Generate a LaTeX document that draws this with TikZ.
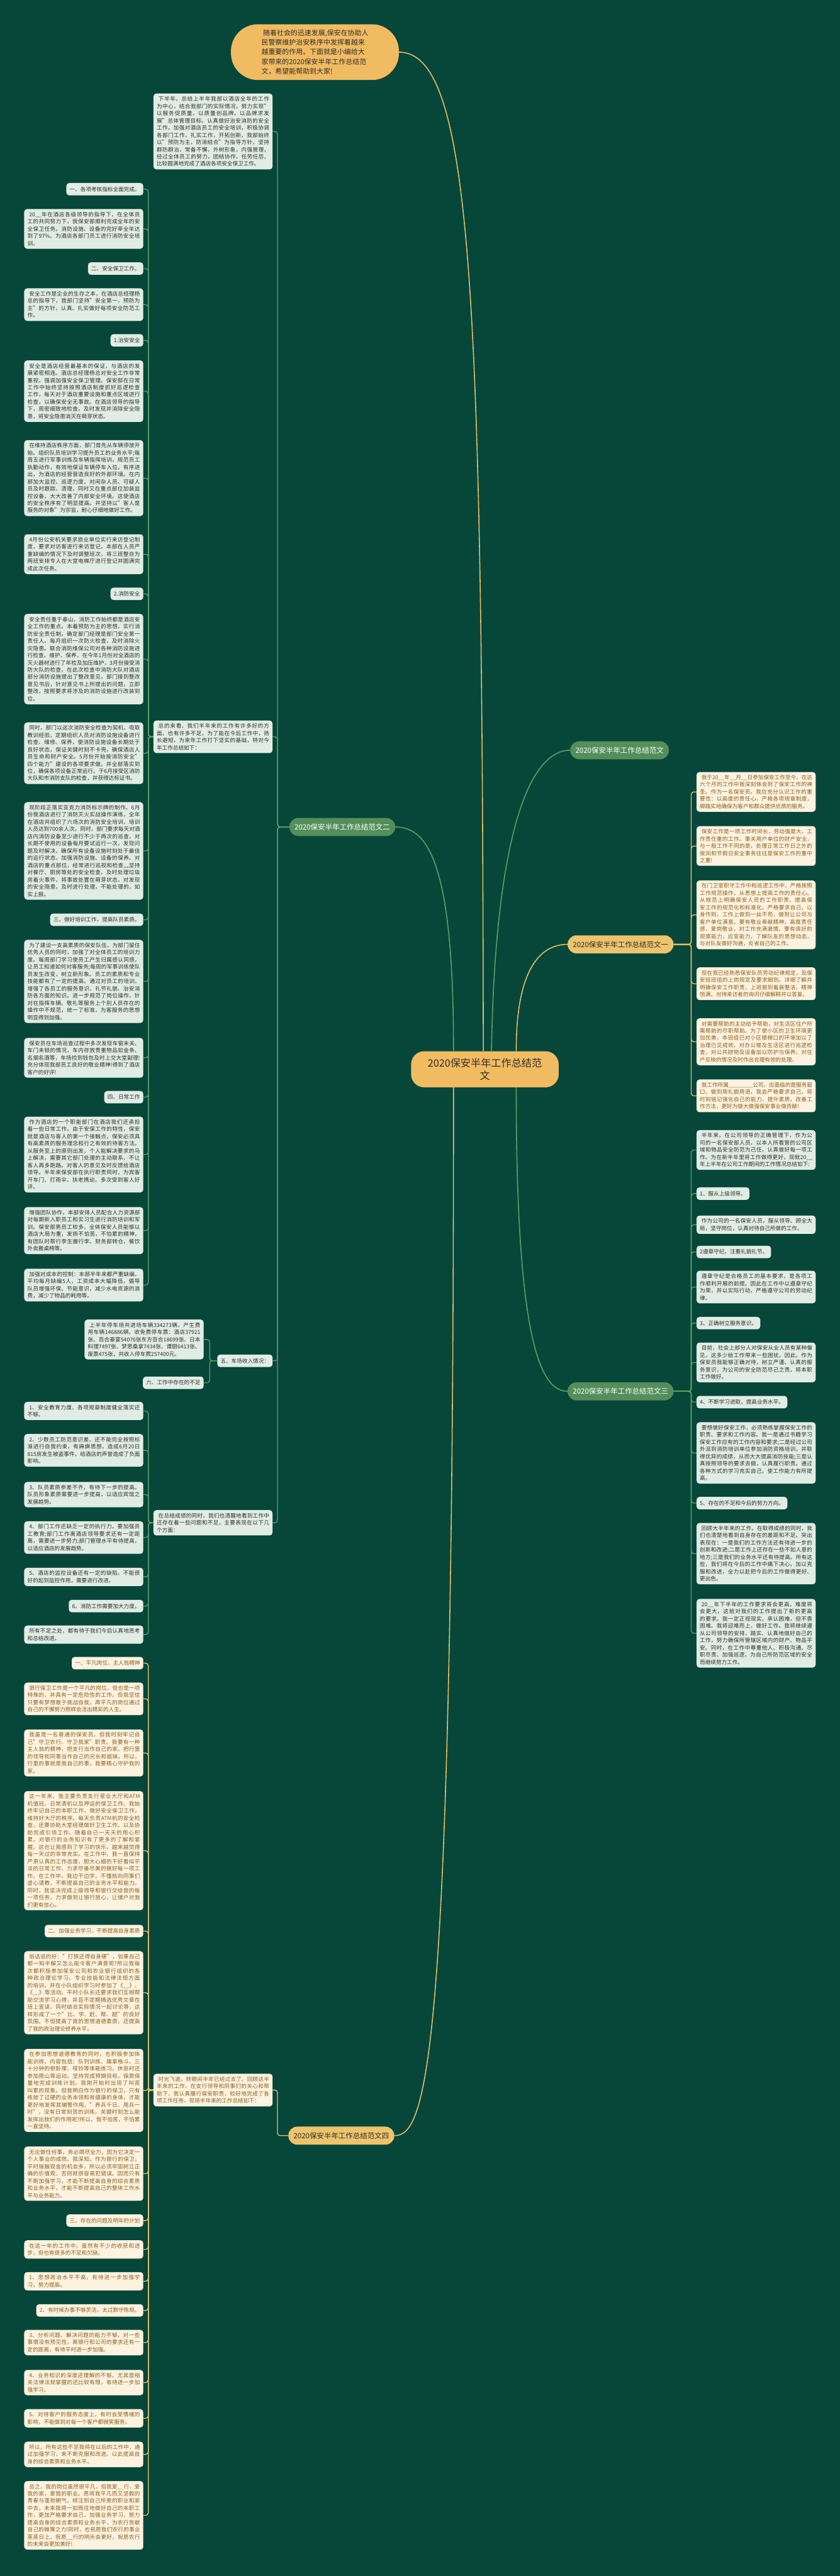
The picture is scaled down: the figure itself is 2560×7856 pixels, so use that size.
\documentclass[tikz,border=0pt]{standalone}
\usepackage{fontspec}
\setmainfont{Noto Sans CJK SC}
\XeTeXlinebreaklocale "zh"
\XeTeXlinebreakskip = 0pt plus 1pt
\definecolor{bg}{HTML}{07473A}
\definecolor{mintc}{HTML}{E1EDE4}
\definecolor{creamc}{HTML}{FBF2E0}
\definecolor{browntext}{HTML}{8E5F1C}
\definecolor{darktext}{HTML}{2E2E2E}
\definecolor{gline}{HTML}{5FA062}
\definecolor{yline}{HTML}{E5C06B}
\definecolor{gnode}{HTML}{548F5B}
\definecolor{orangec}{HTML}{F1BB62}
\definecolor{ynode}{HTML}{EDC46C}
\tikzset{
 tbox/.style={rounded corners=9pt, inner xsep=10pt, inner ysep=9pt, font=\fontsize{16.5}{22}\selectfont},
 mbox/.style={tbox, fill=mintc, text=darktext},
 cbox/.style={tbox, fill=creamc, text=browntext},
 para/.style={text width=343pt, align=justify, execute at begin node=\hspace*{5pt}},
 ttl/.style={minimum height=38pt},
 gpill/.style={fill=gnode, text=white, rounded corners=27pt, minimum height=55pt, inner xsep=16pt, font=\fontsize{22}{26}\selectfont},
 ypill/.style={gpill, fill=ynode, text=darktext},
 glink/.style={draw=gline, line width=2.5pt, rounded corners=8pt},
 ylink/.style={draw=yline, line width=2.5pt, rounded corners=8pt},
 gcurve/.style={draw=gline, line width=3pt},
 ycurve/.style={draw=yline, line width=3pt},
}
\begin{document}
\begin{tikzpicture}[x=1pt,y=-1pt]
\fill[bg] (0,0) rectangle (2560,7856);
\path[use as bounding box] (0,0) rectangle (2560,7856);

% ---------- root and top ----------
\node[fill=orangec, text=darktext, rounded corners=40pt, minimum width=450pt, minimum height=110pt, align=center, font=\fontsize{31}{40}\selectfont] (R) at (1478,3261) {2020保安半年工作总结范\\文};
\node[fill=orangec, text=darktext, rounded corners=82pt, minimum width=512pt, minimum height=170pt, align=left, font=\fontsize{21}{29.6}\selectfont] (T) at (960,159) {\hspace*{5pt}随着社会的迅速发展,保安在协助人\\民警察维护治安秩序中发挥着越来\\越重要的作用。下面就是小编给大\\家带来的2020保安半年工作总结范\\文，希望能帮助到大家!};

% ---------- branch nodes ----------
\node[gpill, anchor=west] (B1) at (1738,2288) {2020保安半年工作总结范文};
\node[ypill, anchor=west] (F1) at (1730,2880) {2020保安半年工作总结范文一};
\node[gpill, anchor=east] (F2) at (1205,2522) {2020保安半年工作总结范文二};
\node[gpill, anchor=west] (F3) at (1730,4243) {2020保安半年工作总结范文三};
\node[ypill, anchor=east] (F4) at (1202,6513) {2020保安半年工作总结范文四};

% ---------- root connectors ----------
\draw[ycurve] (R.95) .. controls (1470,900) and (1440,159) .. (T.east);
\draw[gcurve] (R.70) .. controls (1508,2600) and (1600,2288) .. (B1.west);
\draw[ycurve] (R.30) .. controls (1573,2950) and (1650,2880) .. (F1.west);
\draw[gcurve] (R.-30) .. controls (1573,4100) and (1650,4243) .. (F3.west);
\draw[gcurve] (R.150) .. controls (1383,2620) and (1300,2522) .. (F2.east);
\draw[ycurve] (R.-150) .. controls (1383,6300) and (1300,6513) .. (F4.east);

% ---------- F2 children (middle column) ----------
\node[mbox, para, anchor=east] (D1) at (831,401) {下半年，总结上半年我部以酒店全年的工作为中心，结合我部门的实际情况，努力实现"以服务促质量，以质量创品牌，以品牌求发展"总体管理目标。认真做好治安消防的安全工作，加强对酒店员工的安全培训，积极协调各部门工作，扎实工作，开拓创新，我部始终以"预防为主，防消结合"为指导方针，坚持群防群治，常备不懈，外树形象，内强管理，经过全体员工的努力，团结协作，任劳任怨，比较圆满地完成了酒店各项安全保卫工作。};
\node[mbox, para, anchor=east] (D2) at (831,2247) {总的来看，我们半年来的工作有许多好的方面，也有许多不足，为了能在今后工作中，扬长避短，为来年工作打下坚实的基础，特对今年工作总结如下：};
\node[mbox, ttl, anchor=east] (D3) at (831,4150) {五、车场收入情况：};
\node[mbox, para, anchor=east] (M1) at (831,4644) {在总结成绩的同时，我们也清醒地看到工作中还存在着一些问题和不足，主要表现在以下几个方面：};

\coordinate (sF2) at (846,2522);
\foreach \c in {D1,D2,D3,M1} \draw[glink] (F2.west) -- (sF2) |- (\c.east);

% ---------- D2 children (left column) ----------
\node[mbox, ttl, anchor=east] (L1) at (437,577) {一、各项考核指标全面完成。};
\node[mbox, para, anchor=east] (L2) at (437,698) {20\_\_年在酒店各级领导的指导下，在全体员工的共同努力下，我保安部顺利完成全年的安全保卫任务。消防设施、设备的完好率全年达到了97\%。为酒店各部门员工进行消防安全培训。};
\node[mbox, ttl, anchor=east] (L3) at (437,819) {二、安全保卫工作。};
\node[mbox, para, anchor=east] (L4) at (437,929) {安全工作是企业的生存之本，在酒店总经理杨总的指导下，我部门坚持"安全第一，预防为主"的方针，认真、扎实做好每项安全防范工作。};
\node[mbox, ttl, anchor=east] (L5) at (437,1038) {1.治安安全};
\node[mbox, para, anchor=east] (L6) at (437,1193) {安全是酒店经营最基本的保证，与酒店的发展紧密相连。酒店总经理杨总对安全工作非常重视，强调加强安全保卫管理。保安部在日常工作中始终坚持按照酒店制度抓好巡逻检查工作，每天对于酒店重要设施和重点区域进行检查，以确保安全无事故。在酒店领导的指导下，周密细致地检查，及时发现并消除安全隐患，将安全隐患消灭在萌芽状态。};
\node[mbox, para, anchor=east] (L7) at (437,1458) {在维持酒店秩序方面，部门首先从车辆停放开始。组织队员培训学习提升员工的业务水平;每周五进行军事训练及车辆指挥培训，规范员工执勤动作，有效地保证车辆停车入位，有序进出，为酒店的经营营造良好的外部环境。在内部加大监控、巡逻力度，对闲杂人员、可疑人员及时跟踪、清理，同时又在重点部位加装监控设备，大大改善了内部安全环境。这使酒店的安全秩序有了明显提高。并坚持以"客人是服务的对象"为宗旨，耐心仔细地做好工作。};
\node[mbox, para, anchor=east] (L8) at (437,1690) {4月份公安机关要求旅业单位实行来访登记制度，要求对访客进行来访登记，本部在人员严重缺编的情况下及时调整班次，将三班整合为两班安排专人在大堂电梯厅进行登记并圆满完成此次任务。};
\node[mbox, ttl, anchor=east] (L9) at (437,1811) {2.消防安全};
\node[mbox, para, anchor=east] (L10) at (437,2010) {安全责任重于泰山，消防工作始终都是酒店安全工作的重点。本着预防为主的思想，实行消防安全责任制，确定部门经理是部门安全第一责任人。每月组织一次防火检查，及时消除火灾隐患。联合消防维保公司对各种消防设施进行检查、维护、保养，在今年1月份对全酒店的灭火器材进行了年检及加压维护，3月份接受消防大队的检查，在此次检查中消防大队对酒店部分消防设施提出了整改意见，部门接到整改意见书后，针对意见书上所提出的问题，立即整改，按照要求将涉及的消防设施进行改装到位。};
\node[mbox, para, anchor=east] (L11) at (437,2297) {同时，部门以这次消防安全检查为契机，吸取教训经验，定期组织人员对消防设施设备进行检查、维修、保养，使消防设施设备长期处于良好状态，保证关键时刻不卡壳，确保酒店人员生命和财产安全。5月份开始按消防安全"四个能力"建设的各项要求做，并全部落实到位，确保各项设备正常运行。于6月接受区消防大队和市消防支队的检查，并获得达标证书。};
\node[mbox, para, anchor=east] (L12) at (437,2595) {现阶段正落实亚克力消防标示牌的制作。6月份我酒店进行了消防灭火实战操作演练，全年在酒店共组织了六场次的消防安全培训，培训人员达到700余人次。同时，部门要求每天对酒店内消防设备至少进行不少于两次的巡查，对长期不使用的设备每月要试运行一次，发现问题及时解决，确保所有设备设施时刻处于最佳的运行状态，加强消防设施、设备的保养。对酒店的重点部位，经常进行巡视和检查„„坚持对餐厅、厨房等处的安全检查，及时处理垃圾房着火事件，将事故处置在萌芽状态，对发现的安全隐患，及时进行处理，不能处理的，如实上报。};
\node[mbox, ttl, anchor=east] (L13) at (437,2805) {三、做好培训工作，提高队员素质。};
\node[mbox, para, anchor=east] (L14) at (437,2993) {为了建设一支高素质的保安队伍，为部门留住优秀人员的同时，加强了对全体员工的培训力度。每周部门学习使员工产生归属感认同感，让员工知道如何对客服务;每周的军事训练使队员发生改变，树立新形象。员工的素质和专业技能都有了一定的提高。通过对员工的培训，增强了各员工的服务意识、礼节礼貌、治安消防各方面的知识。进一步规范了岗位操作，针对在指挥车辆、敬礼等服务上个别人员存在的操作中不规范，统一了标准，为客服务的思想明显得到加强。};
\node[mbox, para, anchor=east] (L15) at (437,3226) {保安员在车场巡查过程中多次发现车窗未关、车门未锁的情况，车内存放贵重物品如金条、名烟名酒等，车场捡到钱包及时上交大堂副理!充分体现我部员工良好的敬业精神!得到了酒店客户的好评!};
\node[mbox, ttl, anchor=east] (L16) at (437,3346) {四、日常工作};
\node[mbox, para, anchor=east] (L17) at (437,3521) {作为酒店的一个职能部门在酒店我们还承担着一些日常工作。由于安保工作的特性，保安就是酒店与客人的第一个接触点，保安必须具有高素质的服务理念和行之有效的待客方法。从服务至上的原则出发，个人能解决要求的马上解决，需要其它部门处理的主动联系，不让客人再多跑路。对客人的意见及时反馈给酒店领导。半年来保安部在执行职责同时，为宾客开车门、打雨伞、扶老携幼，多次受到客人好评。};
\node[mbox, para, anchor=east] (L18) at (437,3753) {增强团队协作，本部安排人员配合人力资源部对每期新入职员工和实习生进行消防培训和军训。保安部男员工较多，全体保安人员能够以酒店大局为重，发扬不怕苦，不怕累的精神，有团队时帮行李生搬行李、财务部转仓，餐饮外卖搬桌椅等。};
\node[mbox, para, anchor=east] (L19) at (437,3919) {加强对成本的控制：本部半年来都严重缺编，平均每月缺编5人，工资成本大幅降低，倡导队员增强环保、节能意识，减少水电资源的浪费，减少了物品的耗用等。};

\coordinate (sD2) at (452,2247);
\foreach \c in {L1,L2,L3,L4,L5,L6,L7,L8,L9,L10,L11,L12,L13,L14,L15,L16,L17,L18,L19} \draw[glink] (D2.west) -- (sD2) |- (\c.east);

% ---------- D3 children ----------
\node[mbox, para, anchor=east] (P) at (621,4085) {上半年停车场共进场车辆334273辆，产生费用车辆146886辆，收免费停车票：酒店37921张、百合豪宴54076张东方百合18699张、日本料理7497张、梦思桑拿7434张、谭厨6413张、废票475张，共收入停车费257400元。};
\node[mbox, ttl, anchor=east] (Q) at (621,4217) {六、工作中存在的不足};
\coordinate (sD3) at (639,4150);
\foreach \c in {P,Q} \draw[glink] (D3.west) -- (sD3) |- (\c.east);

% ---------- M1 children ----------
\node[mbox, para, anchor=east] (S1) at (437,4303) {1、安全教育力度、各项规章制度健全落实还不够。};
\node[mbox, para, anchor=east] (S2) at (437,4423) {2、少数员工防范意识差，还不能完全按照标准进行自我约束，有麻痹思想，造成6月20日815房发生被盗事件，给酒店的声誉造成了负面影响。};
\node[mbox, para, anchor=east] (S3) at (437,4558) {3、队员素质参差不齐，有待下一步的提高。队员形象素质需要进一步提高，以适应宾馆之发展趋势。};
\node[mbox, para, anchor=east] (S4) at (437,4689) {4、部门工作还缺乏一定的执行力，要加强员工教育;部门工作离酒店领导要求还有一定距离，需要进一步努力;部门管理水平有待提高，以适应酒店的发展趋势。};
\node[mbox, para, anchor=east] (S5) at (437,4809) {5、酒店的监控设备还有一定的缺陷，不能很好的起到监控作用，需要进行改进。};
\node[mbox, ttl, anchor=east] (S6) at (437,4898) {6、消防工作需要加大力度。};
\node[mbox, para, anchor=east] (S7) at (437,4985) {所有不足之处，都有待于我们今后认真地思考和总结改进。};
\coordinate (sM1) at (452,4644);
\foreach \c in {S1,S2,S3,S4,S5,S6,S7} \draw[glink] (M1.west) -- (sM1) |- (\c.east);

% ---------- F4 children ----------
\node[cbox, para, anchor=east] (M2) at (831,6374) {时光飞逝，转眼间半年已经过去了。回顾这半年来的工作，在支行领导和同事们的关心和帮助下，我认真履行保安职责，较好地完成了各项工作任务，现将半年来的工作总结如下：};
\coordinate (sF4) at (846,6513);
\draw[ylink] (F4.west) -- (sF4) |- (M2.east);

\node[cbox, ttl, anchor=east] (G1) at (437,5072) {一、平凡岗位，主人翁精神};
\node[cbox, para, anchor=east] (G2) at (437,5181) {银行保卫工作是一个平凡的岗位，但也是一项特殊的、并具有一定危险性的工作。但我坚信只要有梦想敢于挑战自我，再平凡的岗位通过自己的不懈努力照样会活出精彩的人生。};
\node[cbox, para, anchor=east] (G3) at (437,5346) {我虽是一名普通的保安员，但我时刻牢记自己"守卫农行、守卫我家"职责。我要有一种主人翁的精神，把支行当作自己的家，把行里的领导和同事当作自己的兄长和姐妹。所以，行里的事就是我自己的事，我要精心守护我的家。};
\node[cbox, para, anchor=east] (G4) at (437,5644) {这一年来，我主要负责支行营业大厅和ATM机值班、日常清机以及押运的保卫工作。我始终牢记自己的本职工作，做好安全保卫工作，维持好大厅的秩序。每天负责ATM机的安全检查，还要协助大堂经理做好卫生工作，以及协助完成引领工作。随着自己一天天的用心积累，对银行的业务知识有了更多的了解和掌握。这也让我感到了学习的快乐，越来越觉得每一天过的非常充实。在工作中，我一直保持严肃认真的工作态度，胆大心细的干好看似平淡的日常工作，力求尽善尽美的做好每一项工作。在工作中，我边干边学，不懂就向同事们虚心请教，不断提高自己的业务水平和能力。同时，我坚决完成上级领导和银行交给我的每一项任务，力求做到让银行放心，让储户对我们更有信心。};
\node[cbox, ttl, anchor=east] (G5) at (437,5889) {二、加强业务学习，不断提高自身素质};
\node[cbox, para, anchor=east] (G6) at (437,6077) {俗话说的好："打铁还得自身硬"，如果自己都一知半解又怎么能令客户满意呢?所以我每次都积极参加保安公司和农业银行组织的各种政治理论学习、专业技能和法律法规方面的培训，并在小队组织学习时参加了《\_\_》、《\_\_》等活动。平时小队长还要求我们互相帮助交流学习心得，并且不定期摘选优秀文章在班上宣读，同时结合实际情况一起讨论等，这样形成了一个"比、学、赶、帮、超"的良好氛围。不但提高了我的思想道德素质，还提高了我的政治理论修养水平。};
\node[cbox, para, anchor=east] (G7) at (437,6375) {在参加思想道德教育的同时，也积极参加体能训练，内容包括：队列训练、擒拿格斗、三十分钟的俯卧撑、哑铃等体能练习，休息时还参加爬山等运动。坚持完成预期目标，保质保量地完成训练计划。我刚开始时出现了叫苦叫累的现象。但我明白作为银行的保卫，只有练就了过硬的业务本领和有健康的身体，才能更好地发挥其辅警作用。"养兵千日、用兵一时"，没有日常刻苦的训练，关键时刻怎么能发挥出我们的作用呢?所以，我不怕苦，不怕累一直坚持。};
\node[cbox, para, anchor=east] (G8) at (437,6629) {无论做任何事，务必竭尽全力，因为它决定一个人事业的成败。我深知，作为银行的保卫，平时接触现金的机会多，所以必须牢固树立正确的价值观，否则就很容易犯错误。因而只有不断加强学习，才能不断提高自身的综合素质和业务水平，才能不断提高自己的整体工作水平与业务能力。};
\node[cbox, ttl, anchor=east] (G9) at (437,6772) {三、存在的问题及明年的计划};
\node[cbox, para, anchor=east] (G10) at (437,6860) {在这一年的工作中，虽然有不少的收获和进步，但也有很多的不足和欠缺。};
\node[cbox, para, anchor=east] (G11) at (437,6957) {1、思想政治水平不高，有待进一步加强学习，努力提高。};
\node[cbox, ttl, anchor=east] (G12) at (437,7046) {2、有时候办事不够灵活，太过默守陈规。};
\node[cbox, para, anchor=east] (G13) at (437,7144) {3、分析问题、解决问题的能力不够，对一些事情没有预见性，离银行和公司的要求还有一定的距离，有待平时进一步加强。};
\node[cbox, para, anchor=east] (G14) at (437,7266) {4、业务知识的深度还理解的不够，尤其是相关法律法规掌握的还比较有限，有待进一步加强学习。};
\node[cbox, para, anchor=east] (G15) at (437,7375) {5、对待客户的服务态度上，有时会受情绪的影响，不能做到对每一个客户都微笑服务。};
\node[cbox, para, anchor=east] (G16) at (437,7485) {所以，所有这些不足我将在以后的工作中，通过加强学习，来不断克服和改进。以此提高自身的综合素质和业务水平。};
\node[cbox, para, anchor=east] (G17) at (437,7671) {总之，我的岗位虽然很平凡，但我爱\_\_行，爱我的家，爱我的职业。愿将我平凡而又坚毅的青春与蓬勃朝气，倾注到自己所爱的职业和家中去，未来我将一如既往地做好自己的本职工作，更加严格要求自己，加强业务学习，努力提高自身的综合素质和业务水平，为农行贡献自己的微薄之力!同时，也祝愿我们农行的事业蒸蒸日上，祝愿\_\_行的明天会更好，祝愿农行的未来会更加美好!};
\coordinate (sM2) at (452,6374);
\foreach \c in {G1,G2,G3,G4,G5,G6,G7,G8,G9,G10,G11,G12,G13,G14,G15,G16,G17} \draw[ylink] (M2.west) -- (sM2) |- (\c.east);

% ---------- F1 children (right, cream) ----------
\node[cbox, para, anchor=west] (C1) at (2123,2415) {我于20\_\_年\_\_月\_\_日参加保安工作至今，在这六个月的工作中我深刻体会到了保安工作的神圣。作为一名保安员，我应充分认识工作的重要性：以高度的责任心，严格各项规章制度，脚踏实地确保为客户和群众提供优质的服务。};
\node[cbox, para, anchor=west] (C2) at (2123,2580) {保安工作是一项工作时间长，劳动强度大，工作责任重的工作。事关用户单位的财产安全，与一般工作不同的是，处理正常工作日之外的夜间和节假日安全事务往往是保安工作的重中之重!};
\node[cbox, para, anchor=west] (C3) at (2123,2790) {在门卫室职守工作中和巡逻工作中，严格按照工作规范操作，从思想上提高工作的责任心。从规范上明确保安人员的工作职责，提高保安工作的规范化和标准化，严格要求自己，以身作则，工作上做到一丝不苟，做到让公司与客户单位满意。要有敬业奉献精神，高度责任感，爱岗敬业，对工作充满激情。要有良好的观察能力，应变能力，了解队友的思想动态，与对队友做好沟通，反省自己的工作。};
\node[cbox, para, anchor=west] (C4) at (2123,3000) {现在我已经熟悉保安队员劳动纪律规定，及保安班班组的上岗规定及要求细则。详细了解并明确保安工作职责，上班做到着装整洁，精神饱满，对待来访者的询问仔细解释并以答复。};
\node[cbox, para, anchor=west] (C5) at (2123,3177) {对需要帮助的主动给予帮助，对生活区住户所需帮助的尽职帮助。为了使小区的卫生环境更加优美，本班组已对小区楼梯口的环境加以了治理已见成效。对办公楼及生活区进行巡逻检查，对公共财物及设备加以防护与保养，对住户反映的情况及时作出合理有效的处理。};
\node[cbox, para, anchor=west] (C6) at (2123,3342) {我工作所属\_\_\_\_\_\_\_\_公司，应面临的是服务窗口，做到用礼貌用语，我会严格要求自己，将时刻铭记强化自己的能力，提升素质，改善工作方法，更好为做大做强保安事业做贡献!};
\coordinate (sF1) at (2107,2880);
\foreach \c in {C1,C2,C3,C4,C5,C6} \draw[ylink] (F1.east) -- (sF1) |- (\c.west);

% ---------- F3 children (right, mint) ----------
\node[mbox, para, anchor=west] (N1) at (2123,3507) {半年来，在公司领导的正确管理下，作为公司的一名保安部人员，以本人所看管的公司区域和物品安全防范为己任，认真做好每一项工作。为在新半年里将工作做得更好，现就20\_\_年上半年在公司工作期间的工作情况总结如下:};
\node[mbox, ttl, anchor=west] (N2) at (2123,3640) {1、服从上级领导。};
\node[mbox, para, anchor=west] (N3) at (2123,3735) {作为公司的一名保安人员，服从领导、顾全大局，坚守岗位，认真对待自己所做的工作。};
\node[mbox, ttl, anchor=west] (N4) at (2123,3818) {2遵章守纪，注重礼貌礼节。};
\node[mbox, para, anchor=west] (N5) at (2123,3925) {遵章守纪是合格员工的基本要求，是各项工作顺利开展的前提。因此在工作中以遵章守纪为荣，并以实际行动，严格遵守公司的劳动纪律。};
\node[mbox, ttl, anchor=west] (N6) at (2123,4035) {3、正确树立服务意识。};
\node[mbox, para, anchor=west] (N7) at (2123,4155) {目前，社会上部分人对保安从业人员有某种偏见，这多少给工作带来一些困扰，因此，作为保安员我能够正确对待，树立严谨、认真的服务意识，为公司的安全防范尽己之责，将本职工作做好。};
\node[mbox, ttl, anchor=west] (N8) at (2123,4276) {4、不断学习进取，提高业务水平。};
\node[mbox, para, anchor=west] (N9) at (2123,4431) {要想做好保安工作，必须熟练掌握保安工作的职责、要求和工作内容。我一是通过书籍学习保安工作应有的工作内容和要求;二是经过公司外派到消防培训单位参加消防资格培训，并取得优异的成绩，从而大大提高消防技能;三是认真按照领导的要求去做，认真履行职责。通过各种方式的学习充实自己，使工作能力有所提高。};
\node[mbox, ttl, anchor=west] (N10) at (2123,4584) {5、存在的不足和今后的努力方向。};
\node[mbox, para, anchor=west] (N11) at (2123,4738) {回顾大半年来的工作，在取得成绩的同时，我们也清楚地看到自身存在的差距和不足。突出表现在：一是我们的工作方法还有待进一步的创新和改进;二是工作上还存在一些不如人意的地方;三是我们的业务水平还有待提高。所有这些，我们将在今后的工作中痛下决心，加以克服和改进，全力以赴把今后的工作做得更好、更出色。};
\node[mbox, para, anchor=west] (N12) at (2123,4981) {20\_\_年下半年的工作要求将会更高，难度将会更大，这就对我们的工作提出了新的更高的要求。我一定正视现实，承认困难，但不畏困难。我将迎难而上，做好工作。我将继续遵从公司领导的安排，踏实、认真地做好自己的工作，努力确保所管辖区域内的财产、物品平安。同时，在工作中尊重他人、积极沟通、尽职尽责、加强巡逻，为自己所防范区域的安全而继续努力工作。};
\coordinate (sF3) at (2107,4243);
\foreach \c in {N1,N2,N3,N4,N5,N6,N7,N8,N9,N10,N11,N12} \draw[glink] (F3.east) -- (sF3) |- (\c.west);

\end{tikzpicture}
\end{document}
